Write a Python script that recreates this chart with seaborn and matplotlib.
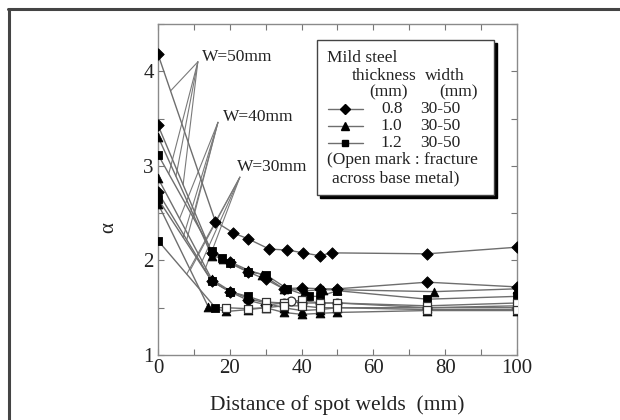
import numpy as np
import pandas as pd
import matplotlib
matplotlib.use("Agg")
import matplotlib.pyplot as plt
import seaborn as sns
from matplotlib.lines import Line2D
from matplotlib.patches import Rectangle

# ---------------- data ----------------
# thickness 0.8 mm (diamond)
d50_x = [0, 16, 21, 25, 31, 36, 40.5, 45, 48.5, 75, 100]
d50_y = [4.18, 2.41, 2.29, 2.23, 2.12, 2.11, 2.08, 2.05, 2.08, 2.07, 2.14]
d50_open = [0] * 11

d40_x = [0, 15, 20, 25, 30, 35, 40, 45, 50, 75, 100]
d40_y = [3.43, 2.08, 1.98, 1.88, 1.80, 1.70, 1.71, 1.70, 1.70, 1.77, 1.72]
d40_open = [0] * 11

d30_x = [0, 15, 20, 25, 30, 35, 37, 40, 45, 50, 75, 100]
d30_y = [2.72, 1.78, 1.67, 1.58, 1.53, 1.55, 1.57, 1.55, 1.55, 1.55, 1.50, 1.50]
d30_open = [0, 0, 0, 0, 0, 1, 1, 1, 1, 1, 1, 1]

# thickness 1.0 mm (triangle)
t50_x = [0, 15, 18, 25, 29, 35, 41, 46, 50, 77, 100]
t50_y = [3.31, 2.05, 2.02, 1.90, 1.85, 1.70, 1.68, 1.69, 1.69, 1.67, 1.70]
t50_open = [0] * 11

t40_x = [0, 15, 20, 25, 30, 35, 40, 45, 50, 75, 100]
t40_y = [2.87, 1.80, 1.68, 1.60, 1.55, 1.50, 1.47, 1.48, 1.50, 1.50, 1.52]
t40_open = [0] * 11

t30_x = [0, 14, 19, 25, 30, 35, 40, 45, 50, 75, 100]
t30_y = [2.60, 1.51, 1.46, 1.48, 1.50, 1.45, 1.43, 1.44, 1.45, 1.47, 1.47]
t30_open = [0] * 11

# thickness 1.2 mm (square)
s50_x = [0, 15, 17.7, 20, 25, 30, 36, 42, 45, 50, 75, 100]
s50_y = [3.12, 2.10, 2.03, 1.97, 1.88, 1.85, 1.70, 1.62, 1.62, 1.68, 1.59, 1.62]
s50_open = [0] * 12

s40_x = [0, 15, 20, 25, 30, 35, 40, 45, 50, 75, 100]
s40_y = [2.65, 1.78, 1.67, 1.62, 1.56, 1.55, 1.58, 1.55, 1.55, 1.52, 1.55]
s40_open = [0, 0, 0, 0, 1, 1, 1, 1, 1, 1, 1]

s30_x = [0, 16, 19, 25, 30, 35, 40, 45, 50, 75, 100]
s30_y = [2.21, 1.50, 1.50, 1.49, 1.50, 1.52, 1.52, 1.50, 1.50, 1.48, 1.48]
s30_open = [0, 0, 1, 1, 1, 1, 1, 1, 1, 1, 1]

legend_thickness = ["0.8", "1.0", "1.2"]
legend_width = ["30-50", "30-50", "30-50"]
width_labels = ["W=50mm", "W=40mm", "W=30mm"]

series = {
    "d50": ("0.8", d50_x, d50_y, d50_open),
    "d40": ("0.8", d40_x, d40_y, d40_open),
    "d30": ("0.8", d30_x, d30_y, d30_open),
    "t50": ("1.0", t50_x, t50_y, t50_open),
    "t40": ("1.0", t40_x, t40_y, t40_open),
    "t30": ("1.0", t30_x, t30_y, t30_open),
    "s50": ("1.2", s50_x, s50_y, s50_open),
    "s40": ("1.2", s40_x, s40_y, s40_open),
    "s30": ("1.2", s30_x, s30_y, s30_open),
}
rows = []
for name, (th, xs, ys, op) in series.items():
    for i, (xx, yy, oo) in enumerate(zip(xs, ys, op)):
        rows.append(dict(series=name, thickness=th, x=xx, y=yy, open=bool(oo), order=i))
df = pd.DataFrame(rows)

# ---------------- drawing ----------------
sns.set_theme(style="white")
serif = ["Liberation Serif", "DejaVu Serif"]
plt.rcParams["font.family"] = serif
plt.rcParams["mathtext.fontset"] = "stix"

fig = plt.figure(figsize=(6.2, 4.2), dpi=100)
ax = fig.add_axes([158 / 620, 1 - 355 / 420, 359 / 620, 331 / 420])

line_col = "#6e6e6e"
sns.lineplot(data=df, x="x", y="y", units="series", estimator=None, sort=False,
             color=line_col, linewidth=1.0, ax=ax, legend=False, zorder=2)

markers = {"0.8": "D", "1.0": "^", "1.2": "s"}
sizes = {"0.8": 34, "1.0": 40, "1.2": 34}
for th, mk in markers.items():
    sub = df[(df.thickness == th) & (~df.open)]
    sns.scatterplot(data=sub, x="x", y="y", marker=mk, s=sizes[th], color="black",
                    edgecolor="black", linewidth=0.6, ax=ax, legend=False, zorder=4)
    sub_o = df[(df.thickness == th) & (df.open)]
    if len(sub_o):
        sns.scatterplot(data=sub_o, x="x", y="y", marker="o" if th == "0.8" else mk,
                        s=sizes[th] + 6, facecolor="white", edgecolor="#333333",
                        linewidth=0.9, ax=ax, legend=False, zorder=5)

ax.set_xlim(0, 100)
ax.set_ylim(1, 4.5)
ax.set_xticks([0, 20, 40, 60, 80, 100])
ax.set_xticks([10, 30, 50, 70, 90], minor=True)
ax.set_yticks([1, 2, 3, 4])
ax.set_yticks([1.5, 2.5, 3.5, 4.5], minor=True)
ax.tick_params(which="both", direction="in", top=True, right=True, bottom=True, left=True,
               length=4, width=0.8, color="#777777", labelsize=15, labelcolor="#222222")
ax.tick_params(axis="x", pad=3)
ax.tick_params(axis="y", pad=3)
for sp in ax.spines.values():
    sp.set_color("#8a8a8a")
    sp.set_linewidth(1.0)

ax.set_xlabel("Distance of spot welds  (mm)", fontsize=15.5, color="#222222", labelpad=12)
ax.set_ylabel("α", fontsize=15, color="#222222", rotation=90)
ax.yaxis.set_label_coords(-0.111, 0.384)

# leader annotations
def on_curve(name, xq):
    _, xs, ys, _ = series[name]
    return (xq, float(np.interp(xq, xs, ys)))

ann = [
    (width_labels[0], (12.3, 4.15), (11.1, 4.10), [("d50", 3.5), ("t50", 5), ("s50", 3), ("d40", 7)]),
    (width_labels[1], (18.1, 3.52), (16.7, 3.46), [("t40", 6), ("s40", 7), ("d30", 8), ("t50", 10)]),
    (width_labels[2], (22.0, 2.99), (22.8, 2.88), [("t30", 9), ("s30", 8), ("d30", 12), ("s40", 13)]),
]
for label, tpos, conv, targets in ann:
    ax.text(tpos[0], tpos[1], label, fontsize=12.5, ha="left", va="center", color="#222222", zorder=6)
    for nm, xq in targets:
        px, py = on_curve(nm, xq)
        ax.add_line(Line2D([conv[0], px], [conv[1], py], color="#7a7a7a", lw=0.8, zorder=1))

# legend box
T = ax.transAxes
bx0, bx1, by0, by1 = 0.443, 0.936, 0.483, 0.952
ax.add_patch(Rectangle((bx0 + 0.009, by0 - 0.010), bx1 - bx0, by1 - by0, transform=T,
                       facecolor="black", edgecolor="black", zorder=7, clip_on=False))
ax.add_patch(Rectangle((bx0, by0), bx1 - bx0, by1 - by0, transform=T,
                       facecolor="white", edgecolor="#444444", lw=1.0, zorder=8, clip_on=False))
fs = 12.5
tc = "#222222"
ax.text(0.471, 0.897, "Mild steel", transform=T, fontsize=fs, va="center", color=tc, zorder=9)
ax.text(0.540, 0.843, "thickness", transform=T, fontsize=fs, va="center", color=tc, zorder=9)
ax.text(0.744, 0.843, "width", transform=T, fontsize=fs, va="center", color=tc, zorder=9)
ax.text(0.588, 0.792, "(mm)", transform=T, fontsize=fs, va="center", color=tc, zorder=9)
ax.text(0.783, 0.792, "(mm)", transform=T, fontsize=fs, va="center", color=tc, zorder=9)
row_y = [0.743, 0.692, 0.640]
for th, wd, ry in zip(legend_thickness, legend_width, row_y):
    ax.add_line(Line2D([0.474, 0.571], [ry, ry], transform=T, color=line_col, lw=1.0, zorder=9))
    ax.add_line(Line2D([0.521], [ry], transform=T, marker=markers[th], color="black",
                       markersize=5 if th != "1.0" else 6, lw=0, zorder=10))
    ax.text(0.621, ry, th, transform=T, fontsize=fs, va="center", color=tc, zorder=9)
    ax.text(0.730, ry, wd, transform=T, fontsize=fs, va="center", color=tc, zorder=9)
ax.text(0.471, 0.589, "(Open mark : fracture", transform=T, fontsize=fs, va="center", color=tc, zorder=9)
ax.text(0.485, 0.535, "across base metal)", transform=T, fontsize=fs, va="center", color=tc, zorder=9)

# outer frame (top and left edges)
fig.add_artist(Line2D([7.5 / 620, 1.0], [1 - 8.5 / 420, 1 - 8.5 / 420], transform=fig.transFigure,
                      color="#444444", lw=2.2))
fig.add_artist(Line2D([8.5 / 620, 8.5 / 620], [0, 1 - 8.5 / 420], transform=fig.transFigure,
                      color="#444444", lw=2.2))

fig.savefig("out.png", dpi=100)
